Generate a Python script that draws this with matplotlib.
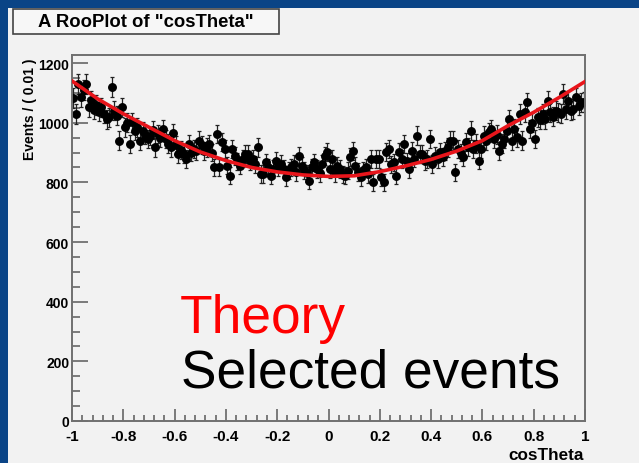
import numpy as np
import matplotlib
matplotlib.use("Agg")
import matplotlib.pyplot as plt
from matplotlib.patches import Rectangle
from matplotlib.ticker import MultipleLocator

# histogram of cosTheta, 200 bins of width 0.01
bin_lo, bin_hi, nbins = -1.0, 1.0, 200
counts = [
    1082, 1029, 1130, 1085, 1110, 1130, 1051, 1075, 1044, 1060,
    1037, 1051, 1030, 1012, 1018, 1119, 1040, 1023, 940, 1051,
    985, 1000, 929, 1001, 972, 985, 940, 972, 960, 945,
    955, 975, 917, 962, 950, 979, 945, 930, 917, 965,
    925, 895, 910, 895, 878, 929, 900, 912, 906, 940,
    925, 905, 917, 929, 900, 850, 962, 850, 935, 912,
    856, 822, 912, 889, 870, 856, 880, 895, 895, 870,
    878, 860, 917, 828, 828, 867, 850, 822, 845, 873,
    850, 862, 845, 817, 840, 850, 862, 835, 889, 856,
    840, 830, 806, 850, 867, 845, 830, 862, 889, 901,
    845, 878, 830, 856, 845, 825, 822, 839, 884, 906,
    856, 835, 817, 840, 850, 828, 878, 800, 878, 878,
    817, 800, 901, 912, 860, 867, 822, 901, 878, 929,
    870, 845, 906, 880, 957, 895, 895, 870, 878, 945,
    862, 890, 878, 901, 885, 906, 917, 940, 940, 834,
    912, 900, 884, 935, 920, 973, 912, 930, 873, 912,
    957, 940, 968, 979, 945, 960, 906, 930, 945, 973,
    1012, 940, 980, 951, 1029, 940, 1035, 1068, 979, 1000,
    945, 1018, 1010, 1029, 1012, 1074, 1035, 1020, 1040, 1035,
    1030, 1096, 1046, 1074, 1040, 1046, 1085, 1057, 1068, 1070,
]

# theory curve read at cosTheta = -1.0, -0.9, ..., 1.0
theory_x = [-1.0, -0.9, -0.8, -0.7, -0.6, -0.5, -0.4, -0.3, -0.2, -0.1, 0.0,
            0.1, 0.2, 0.3, 0.4, 0.5, 0.6, 0.7, 0.8, 0.9, 1.0]
theory_y = [1140, 1080, 1030, 985, 940, 902, 873, 850, 835, 825, 820,
            822, 836, 855, 877, 905, 940, 990, 1035, 1085, 1138]

xtick_vals = [-1.0, -0.8, -0.6, -0.4, -0.2, 0.0, 0.2, 0.4, 0.6, 0.8, 1.0]
xtick_labels = ["-1", "-0.8", "-0.6", "-0.4", "-0.2", "0", "0.2", "0.4", "0.6", "0.8", "1"]
ytick_vals = [0, 200, 400, 600, 800, 1000, 1200]

edges = np.linspace(bin_lo, bin_hi, nbins + 1)
centers = 0.5 * (edges[:-1] + edges[1:])
counts = np.array(counts, dtype=float)
errs = np.sqrt(counts)

W, H = 639, 464
fig = plt.figure(figsize=(W / 100, H / 100), dpi=100)
fig.patch.set_facecolor("#0a4486")

# ROOT canvas
fig.patches.append(Rectangle((8 / W, 0), 1 - 8 / W, 1 - 9 / H, transform=fig.transFigure,
                             facecolor="#f2f2f2", edgecolor="none", zorder=-5))

ax = fig.add_axes([72 / W, 1 - 422 / H, (585 - 72) / W, (422 - 56) / H])
ax.set_facecolor("#f2f2f2")

ax.plot(theory_x, theory_y, color="#e8151b", lw=2.6, zorder=3)
ax.errorbar(centers, counts, yerr=errs, fmt="o", color="black", ms=5.4,
            ecolor="#222222", elinewidth=0.9, capsize=1.6, capthick=0.9, zorder=2)

ax.set_xlim(-1, 1)
ax.set_ylim(0, 1227)
ax.set_xticks(xtick_vals)
ax.set_xticklabels(xtick_labels)
ax.set_yticks(ytick_vals)
ax.set_yticklabels([str(v) for v in ytick_vals])
ax.xaxis.set_minor_locator(MultipleLocator(0.04))
ax.yaxis.set_minor_locator(MultipleLocator(50))

ax.tick_params(axis="x", which="major", direction="in", length=8.5, width=1.2, color="#666666",
               pad=5.5, labelsize=11)
ax.tick_params(axis="x", which="minor", direction="in", length=4, width=1.2, color="#666666")
ax.tick_params(axis="y", which="major", direction="in", length=11.5, width=1.2, color="#666666",
               pad=2, labelsize=10)
ax.tick_params(axis="y", which="minor", direction="in", length=6, width=1.2, color="#666666")
for lab in ax.get_xticklabels() + ax.get_yticklabels():
    lab.set_fontweight("bold")
    lab.set_family("Liberation Sans")
for s in ax.spines.values():
    s.set_color("#707070")
    s.set_linewidth(1.4)

fig.text(584 / W, 1 - 456 / H, "cosTheta", ha="right", va="center", fontsize=12.3,
         fontweight="bold", family="Liberation Sans")
fig.text(30 / W, 1 - 58 / H, "Events / ( 0.01 )", ha="center", va="top", rotation=90,
         fontsize=10, fontweight="bold", family="Liberation Sans")

# title box
fig.patches.append(Rectangle((13 / W, 1 - 35 / H), 266 / W, 25 / H, transform=fig.transFigure,
                             facecolor="#f7f7f7", edgecolor="#444444", lw=1.2, zorder=1))
fig.text(146 / W, 1 - 22.5 / H, 'A RooPlot of "cosTheta"', ha="center", va="center",
         fontsize=13.3, fontweight="bold", family="Liberation Sans")

fig.text(180 / W, 1 - 333 / H, "Theory", color="#ff0000", fontsize=38.3,
         family="Liberation Sans", va="baseline", ha="left")
fig.text(181 / W, 1 - 388 / H, "Selected events", color="black", fontsize=38.3,
         family="Liberation Sans", va="baseline", ha="left")

fig.savefig("out.png", dpi=100, facecolor=fig.get_facecolor())
